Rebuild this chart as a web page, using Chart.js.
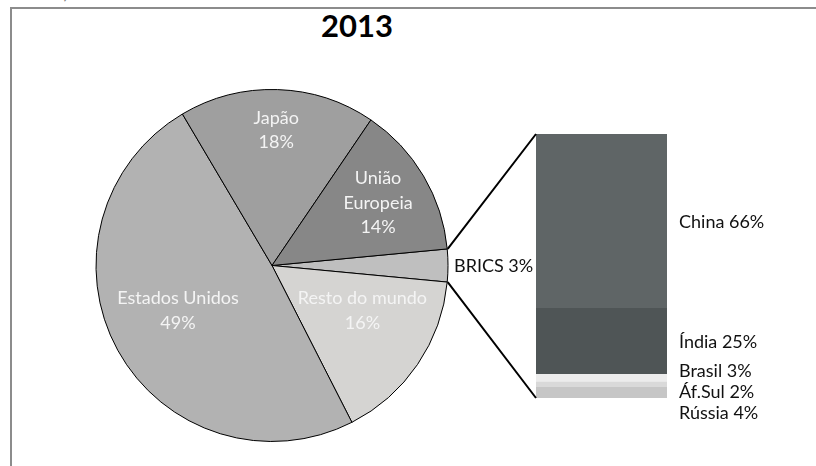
<!DOCTYPE html>
<html>
<head>
<meta charset="utf-8">
<script src="https://cdn.jsdelivr.net/npm/chart.js@4.4.1/dist/chart.umd.min.js"></script>
<style>
  html, body { margin: 0; padding: 0; background: #fff; }
  body { width: 816px; height: 466px; position: relative; overflow: hidden; font-family: Lato, "Open Sans", sans-serif; }
  .frame { position: absolute; left: 10px; top: 7px; width: 900px; height: 600px; border-left: 2px solid #8c8c8c; border-top: 2px solid #8c8c8c; }
  .note { position: absolute; left: 10px; top: -18px; font-style: italic; font-size: 17px; color: #808080; }
  .title { position: absolute; left: 257px; width: 200px; top: 6px; text-align: center; font-weight: bold; font-size: 31px; color: #000; }
  canvas { position: absolute; left: 0; top: 0; }
</style>
</head>
<body>
<div class="note">do total)</div>
<div class="frame"></div>
<div class="title">2013</div>
<canvas id="pizza" width="816" height="466"></canvas>
<canvas id="barra" width="816" height="466"></canvas>
<script>
// pizza principal (BRICS primeiro, depois sentido horario)
const pieLabels = ["BRICS", "Resto do mundo", "Estados Unidos", "Japão", ["União", "Europeia"]];
const pieValues = [3, 16, 49, 18, 14];
const pieColors = ["#bfbfbf", "#d5d4d2", "#b2b2b2", "#9f9f9f", "#878787"];

// abertura do BRICS (de cima para baixo)
const bricsLabels = ["China", "Índia", "Brasil", "Áf.Sul", "Rússia"];
const bricsValues = [66, 25, 3, 2, 4];
const bricsColors = ["#5f6566", "#4f5556", "#ececec", "#d9d9d9", "#c6c6c6"];

const FONT = "Lato, 'Open Sans', sans-serif";

// posicao dos rotulos dentro das fatias (fracao do raio + ajuste)
const labelPos = [null, { f: 0.58, dx: 6, dy: -12 }, { f: 0.59, dx: -3, dy: -5 }, { f: 0.77, dx: 0, dy: 0 }, { f: 0.7, dx: 0, dy: 0 }];

const pieText = {
  id: "pieText",
  afterDatasetsDraw(chart) {
    const ctx = chart.ctx;
    const arcs = chart.getDatasetMeta(0).data;
    ctx.save();
    ctx.font = "18px " + FONT;
    ctx.textBaseline = "middle";
    arcs.forEach((arc, i) => {
      const mid = (arc.startAngle + arc.endAngle) / 2;
      const r = arc.outerRadius;
      if (i === 0) {
        // BRICS fica fora
        ctx.fillStyle = "#111";
        ctx.textAlign = "left";
        ctx.fillText(pieLabels[i] + " " + pieValues[i] + "%", arc.x + (r + 6) * Math.cos(mid), arc.y + (r + 6) * Math.sin(mid) + 1);
        return;
      }
      const p = labelPos[i];
      const lines = [].concat(pieLabels[i], pieValues[i] + "%");
      const cx = arc.x + r * p.f * Math.cos(mid) + p.dx;
      const cy = arc.y + r * p.f * Math.sin(mid) + p.dy;
      const lh = 24.5;
      ctx.fillStyle = "#f4f4f4";
      ctx.textAlign = "center";
      lines.forEach((t, j) => {
        ctx.fillText(t, cx, cy + (j - (lines.length - 1) / 2) * lh);
      });
    });
    ctx.restore();
  },
};

const pieChart = new Chart(document.getElementById("pizza"), {
  type: "pie",
  data: {
    labels: pieLabels,
    datasets: [
      {
        data: pieValues,
        backgroundColor: pieColors,
        borderColor: "#000",
        borderWidth: 1,
      },
    ],
  },
  options: {
    responsive: false,
    animation: false,
    rotation: 90 - (pieValues[0] / 100) * 180,
    layout: { padding: { left: 95, right: 367, top: 89, bottom: 24 } },
    plugins: { legend: { display: false }, tooltip: { enabled: false }, title: { display: false } },
  },
  plugins: [pieText],
});

// linhas de ligacao e rotulos da barra
const bricsText = {
  id: "bricsText",
  afterDraw(chart) {
    const ctx = chart.ctx;
    const arc = pieChart.getDatasetMeta(0).data[0];
    const n = chart.data.datasets.length;
    const topBar = chart.getDatasetMeta(n - 1).data[0];
    const botBar = chart.getDatasetMeta(0).data[0];
    const left = topBar.x - topBar.width / 2;
    const right = topBar.x + topBar.width / 2;
    const r = arc.outerRadius + 0.5;

    ctx.save();
    ctx.strokeStyle = "#000";
    ctx.lineWidth = 2;
    ctx.beginPath();
    ctx.moveTo(arc.x + r * Math.cos(arc.startAngle), arc.y + r * Math.sin(arc.startAngle));
    ctx.lineTo(left, topBar.y);
    ctx.moveTo(arc.x + r * Math.cos(arc.endAngle), arc.y + r * Math.sin(arc.endAngle));
    ctx.lineTo(left, botBar.base);
    ctx.stroke();

    ctx.font = "18px " + FONT;
    ctx.fillStyle = "#111";
    ctx.textAlign = "left";
    ctx.textBaseline = "middle";
    let prev = -Infinity;
    for (let k = n - 1; k >= 0; k--) {
      const el = chart.getDatasetMeta(k).data[0];
      const h = Math.abs(el.base - el.y);
      let y = (el.y + el.base) / 2;
      if (h < 12) y -= 8;
      if (y < prev + 21) y = prev + 21;
      prev = y;
      const ds = chart.data.datasets[k];
      ctx.fillText(ds.label + " " + ds.data[0] + "%", right + 12, y + 1);
    }
    ctx.restore();
  },
};

// empilha de baixo para cima: Rússia ... China
const bricsDatasets = bricsLabels
  .map((lab, i) => ({
    label: lab,
    data: [bricsValues[i]],
    backgroundColor: bricsColors[i],
    borderWidth: 0,
    barPercentage: 1,
    categoryPercentage: 1,
  }))
  .reverse();

new Chart(document.getElementById("barra"), {
  type: "bar",
  data: { labels: ["BRICS"], datasets: bricsDatasets },
  options: {
    responsive: false,
    animation: false,
    layout: { padding: { left: 536, right: 149, top: 134, bottom: 68 } },
    scales: {
      x: { display: false, stacked: true },
      y: { display: false, stacked: true, min: 0, max: 100 },
    },
    plugins: { legend: { display: false }, tooltip: { enabled: false } },
  },
  plugins: [bricsText],
});
</script>
</body>
</html>
